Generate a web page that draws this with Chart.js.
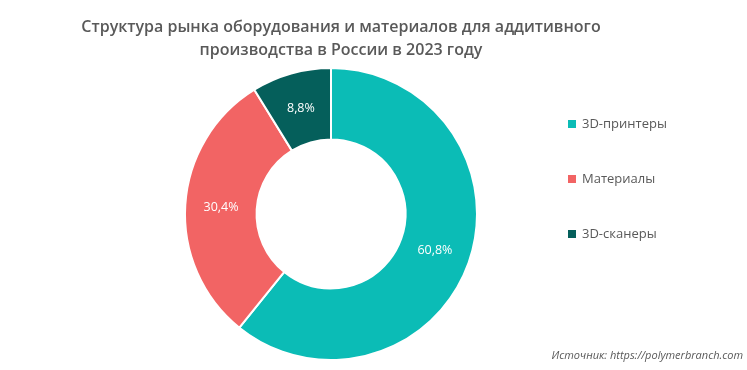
<!DOCTYPE html>
<html>
<head>
<meta charset="utf-8">
<script src="https://cdn.jsdelivr.net/npm/chart.js@4"></script>
<style>
  body { margin: 0; background: #fff; font-family: "Open Sans", sans-serif; }
  #wrap { position: relative; width: 747px; height: 370px; }
  #title { position: absolute; left: 0; top: 15px; width: 682px; text-align: center;
           font-size: 16px; font-weight: 600; color: #595959; line-height: 23px; }
  #legend { position: absolute; left: 568px; top: 114px; font-size: 13px; color: #595959; }
  .item { height: 55px; display: flex; align-items: flex-start; }
  .box { width: 8px; height: 8px; margin: 6px 6px 0 0; }
  #source { position: absolute; right: 4px; top: 347px; font-size: 11px; font-style: italic; color: #595959; }
</style>
</head>
<body>
<div id="wrap">
  <canvas id="myChart" width="747" height="370"></canvas>
  <div id="title">Структура рынка оборудования и материалов для аддитивного<br>производства в России в 2023 году</div>
  <div id="legend"></div>
  <div id="source">Источник: https://polymerbranch.com</div>
</div>
<script>
  var labels = ['3D-принтеры', 'Материалы', '3D-сканеры'];
  var values = [60.8, 30.4, 8.8];
  var colors = ['#0bbcb6', '#f26464', '#055f5b'];

  // Легенда
  var legend = document.getElementById('legend');
  labels.forEach(function (name, i) {
    var item = document.createElement('div');
    item.className = 'item';
    item.innerHTML = '<div class="box" style="background:' + colors[i] + '"></div>' + name;
    legend.appendChild(item);
  });

  // Подписи процентов внутри сегментов
  var valueLabels = {
    id: 'valueLabels',
    afterDatasetsDraw: function (chart) {
      var c = chart.ctx;
      var meta = chart.getDatasetMeta(0);
      c.save();
      c.fillStyle = '#fff';
      c.font = '500 12.5px "Open Sans"';
      c.textAlign = 'center';
      c.textBaseline = 'middle';
      meta.data.forEach(function (arc, i) {
        var p = arc.tooltipPosition();
        c.fillText(values[i].toFixed(1).replace('.', ',') + '%', p.x, p.y);
      });
      c.restore();
    }
  };

  var ctx = document.getElementById('myChart').getContext('2d');
  var myChart = new Chart(ctx, {
    type: 'doughnut',
    data: {
      labels: labels,
      datasets: [{
        data: values,
        backgroundColor: colors,
        borderColor: '#fff',
        borderWidth: 2
      }]
    },
    options: {
      responsive: false,
      animation: false,
      cutout: '51%',
      layout: { padding: { left: 184, right: 269, top: 67, bottom: 9 } },
      plugins: { legend: { display: false }, tooltip: { enabled: false } }
    },
    plugins: [valueLabels]
  });
</script>
</body>
</html>
